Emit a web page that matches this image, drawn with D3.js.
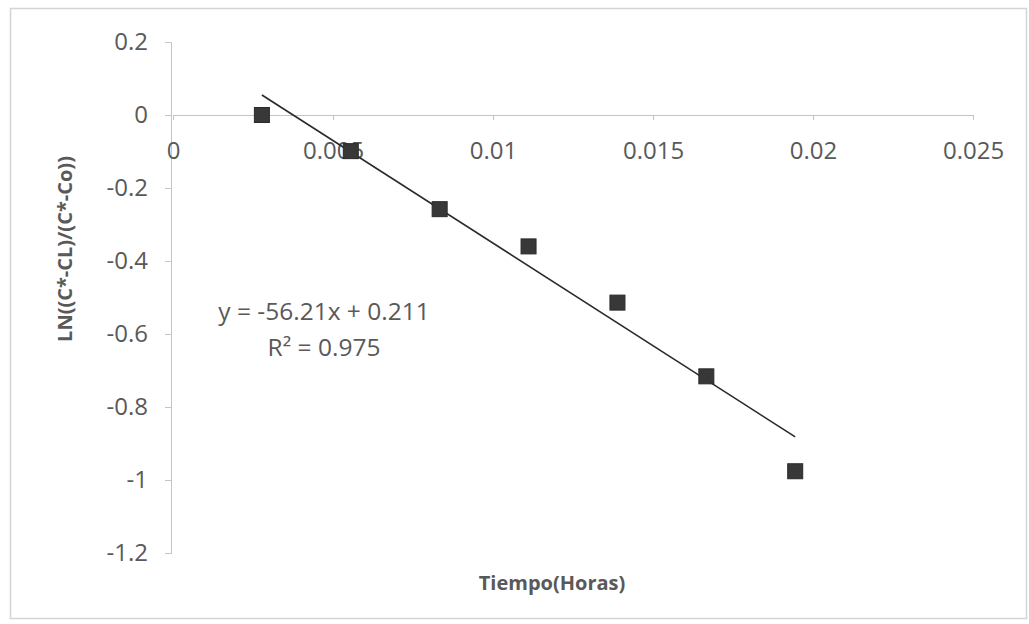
<!DOCTYPE html>
<html>
<head>
<meta charset="utf-8">
<script src="https://cdn.jsdelivr.net/npm/d3@7"></script>
<style>
  html, body { margin: 0; padding: 0; background: #fff; }
  svg { display: block; }
  svg text { font-family: 'Open Sans', sans-serif; }
</style>
</head>
<body>
<div id="chart"></div>
<script>
// tiempo in hours (10 s steps), y = LN((C*-CL)/(C*-Co))
const tiempo = [0.002778, 0.005556, 0.008333, 0.011111, 0.013889, 0.016667, 0.019444];
const lnRatio = [0.0, -0.099, -0.258, -0.36, -0.514, -0.716, -0.976];
const xTicks = [0, 0.005, 0.01, 0.015, 0.02, 0.025];
const yTicks = [0.2, 0, -0.2, -0.4, -0.6, -0.8, -1, -1.2];
const trend = { slope: -56.21, intercept: 0.211, r2: 0.975 };

const width = 1029, height = 624;

const svg = d3.select('#chart')
  .append('svg')
  .attr('width', width)
  .attr('height', height);

// chart frame
svg.append('rect')
  .attr('x', 10.5).attr('y', 8.5)
  .attr('width', 1016).attr('height', 610)
  .attr('fill', '#fff')
  .attr('stroke', '#d4d4d4')
  .attr('stroke-width', 1.5);

const x = d3.scaleLinear().domain([0, 0.025]).range([173, 973]);
const y = d3.scaleLinear().domain([-1.2, 0.2]).range([553, 42]);

const axisColor = '#c4c4c4';
const labelColor = '#595959';

// y axis
const yAxis = svg.append('g')
  .attr('transform', `translate(${x(0) - 2},0)`)
  .call(d3.axisLeft(y).tickValues(yTicks).tickSize(6).tickPadding(17)
    .tickFormat(d => String(+d.toFixed(1))));
yAxis.select('.domain').attr('stroke', axisColor);
yAxis.selectAll('.tick line').attr('stroke', axisColor);
yAxis.selectAll('.tick text')
  .attr('fill', labelColor)
  .attr('font-size', '24px');

// x axis at y = 0
const xAxis = svg.append('g')
  .attr('transform', `translate(0,${y(0)})`)
  .call(d3.axisBottom(x).tickValues(xTicks).tickSize(5).tickPadding(22)
    .tickFormat(d => String(+d.toFixed(3))));
xAxis.select('.domain').attr('stroke', axisColor);
xAxis.selectAll('.tick line').attr('stroke', axisColor);
xAxis.selectAll('.tick text')
  .attr('fill', labelColor)
  .attr('font-size', '24px');

// trendline over the data range
const x0 = d3.min(tiempo), x1 = d3.max(tiempo);
svg.append('line')
  .attr('x1', x(x0)).attr('y1', y(trend.slope * x0 + trend.intercept))
  .attr('x2', x(x1)).attr('y2', y(trend.slope * x1 + trend.intercept))
  .attr('stroke', '#2a2a2a')
  .attr('stroke-width', 1.6);

// markers
const ms = 15;
svg.selectAll('rect.pt')
  .data(tiempo.map((t, i) => [t, lnRatio[i]]))
  .join('rect')
  .attr('class', 'pt')
  .attr('x', d => x(d[0]) - ms / 2)
  .attr('y', d => y(d[1]) - ms / 2)
  .attr('width', ms)
  .attr('height', ms)
  .attr('fill', '#383838')
  .attr('stroke', '#2a2a2a')
  .attr('stroke-width', 1);

// equation label
const eq = svg.append('text')
  .attr('text-anchor', 'middle')
  .attr('fill', labelColor)
  .attr('font-size', '24.5px');
eq.append('tspan').attr('x', 324).attr('y', 320)
  .text(`y = ${trend.slope}x + ${trend.intercept}`);
eq.append('tspan').attr('x', 324).attr('y', 356)
  .text(`R² = ${trend.r2}`);

// axis titles
svg.append('text')
  .attr('x', 552).attr('y', 590)
  .attr('text-anchor', 'middle')
  .attr('fill', labelColor)
  .attr('font-size', '20px')
  .attr('font-weight', 'bold')
  .text('Tiempo(Horas)');

svg.append('text')
  .attr('transform', 'translate(72,249) rotate(-90)')
  .attr('text-anchor', 'middle')
  .attr('fill', labelColor)
  .attr('font-size', '20px')
  .attr('font-weight', 'bold')
  .text('LN((C*-CL)/(C*-Co))');
</script>
</body>
</html>
